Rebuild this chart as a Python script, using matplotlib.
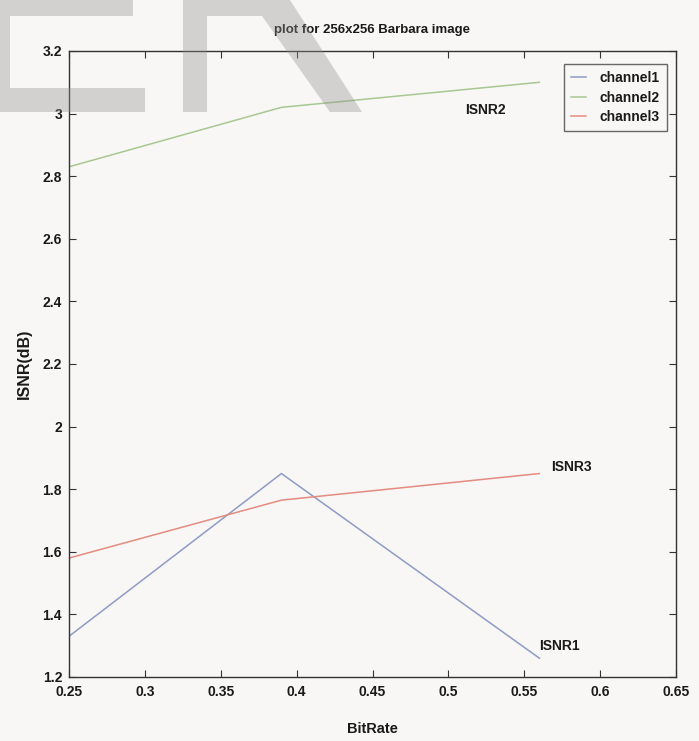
import matplotlib
matplotlib.use("Agg")
import matplotlib.pyplot as plt
from matplotlib.patches import Polygon
from matplotlib.ticker import FormatStrFormatter

# ---- data ----
bitrate = [0.25, 0.39, 0.56]
channel1 = [1.33, 1.85, 1.26]
channel2 = [2.83, 3.02, 3.10]
channel3 = [1.58, 1.765, 1.85]
series_names = ["channel1", "channel2", "channel3"]
annot_labels = ["ISNR1", "ISNR2", "ISNR3"]
annot_x = [0.560, 0.511, 0.568]
annot_y = [1.30, 3.01, 1.87]
xticks = [0.25, 0.3, 0.35, 0.4, 0.45, 0.5, 0.55, 0.6, 0.65]
yticks = [1.2, 1.4, 1.6, 1.8, 2.0, 2.2, 2.4, 2.6, 2.8, 3.0, 3.2]

W, H = 699, 741
bg = "#f8f7f5"
narrow = ["Liberation Sans", "DejaVu Sans"]
txt = "#1a1a1a"

fig = plt.figure(figsize=(W / 100, H / 100), dpi=100, facecolor=bg)
L, R, T, Bm = 69, 676, 51, 677
ax = fig.add_axes([L / W, 1 - Bm / H, (R - L) / W, (Bm - T) / H])
ax.set_facecolor(bg)

colors = ["#8d9cc4", "#a9c792", "#e58b80"]
for ys, name, c in zip([channel1, channel2, channel3], series_names, colors):
    ax.plot(bitrate, ys, color=c, lw=1.1, label=name)

for lab, x, y in zip(annot_labels, annot_x, annot_y):
    ax.text(x, y, lab, ha="left", va="center", fontsize=10,
            family=narrow, weight="bold", color=txt)

ax.set_xlim(0.25, 0.65)
ax.set_ylim(1.2, 3.2)
ax.set_xticks(xticks)
ax.set_yticks(yticks)
ax.xaxis.set_major_formatter(FormatStrFormatter("%g"))
ax.yaxis.set_major_formatter(FormatStrFormatter("%g"))
ax.tick_params(direction="in", length=5, width=0.8, top=True, right=True,
               colors="#333333", labelcolor=txt)
ax.tick_params(axis="x", pad=6)
ax.tick_params(axis="y", pad=5)
for lbl in ax.get_xticklabels() + ax.get_yticklabels():
    lbl.set_family(narrow)
    lbl.set_weight("bold")
    lbl.set_fontsize(10)
for s in ax.spines.values():
    s.set_color("#333333")
    s.set_linewidth(1.0)

ax.set_title("plot for 256x256 Barbara image", fontsize=9.5, family=narrow,
             weight="bold", color=txt, pad=13)
ax.set_xlabel("BitRate", fontsize=10.5, family=narrow, weight="bold",
              color=txt, labelpad=16)
ax.set_ylabel("ISNR(dB)", fontsize=11.5, family=narrow, weight="bold",
              color=txt, labelpad=8)

leg = ax.legend(loc="upper right", bbox_to_anchor=(1 - 9 / 607, 1 - 13 / 626),
                borderaxespad=0, fancybox=False, frameon=True,
                handlelength=1.1, handletextpad=1.0, labelspacing=0.4,
                borderpad=0.5, prop={"family": narrow, "weight": "bold",
                                     "size": 10})
leg.get_frame().set_edgecolor("#444444")
leg.get_frame().set_linewidth(1.0)
leg.get_frame().set_facecolor(bg)
for t in leg.get_texts():
    t.set_color(txt)

# ---- scanned watermark blocks (gray "ER" in the top-left corner) ----
def px(points):
    return [(x / W, 1 - y / H) for x, y in points]

shapes = [
    [(0, 0), (133, 0), (133, 16), (0, 16)],
    [(0, 16), (10, 16), (10, 88), (0, 88)],
    [(0, 88), (145, 88), (145, 112), (0, 112)],
    [(183, 0), (207, 0), (207, 112), (183, 112)],
    [(207, 0), (290, 0), (362, 112), (330, 112), (262, 16), (207, 16)],
]
for s in shapes:
    fig.patches.append(Polygon(px(s), closed=True, transform=fig.transFigure,
                               facecolor="#8f8f8f", edgecolor="none",
                               alpha=0.36, zorder=10))

fig.savefig("out.png", dpi=100, facecolor=bg)
